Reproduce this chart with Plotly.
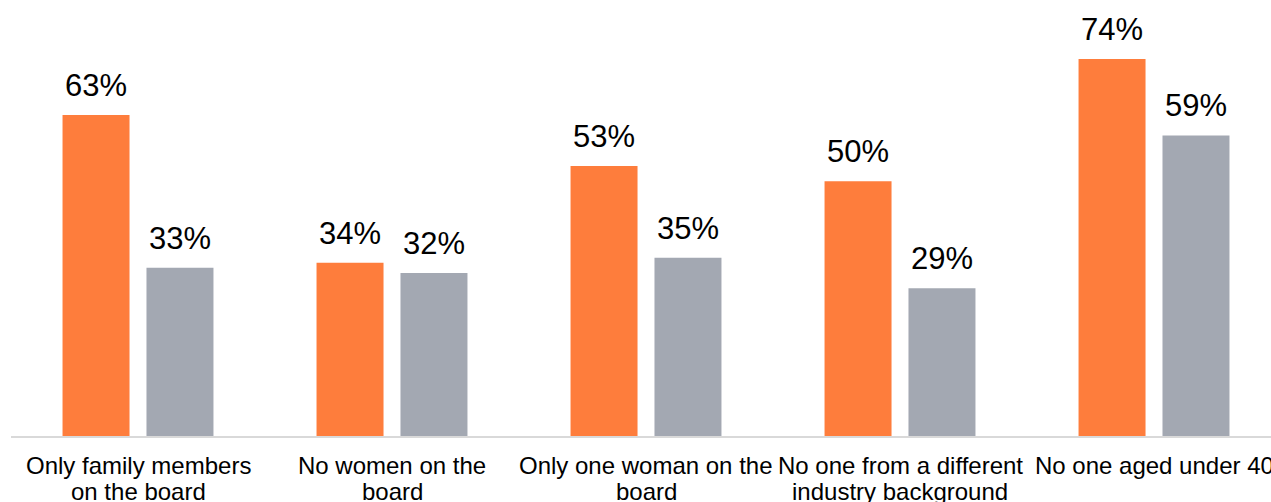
import plotly.graph_objects as go

categories = ["Only family members on the board", "No women on the board",
              "Only one woman on the board", "No one from a different industry background",
              "No one aged under 40"]
label_line1 = ["Only family members", "No women on the", "Only one woman on the",
               "No one from a different", "No one aged under 40"]
label_line2 = ["on the board", "board", "board", "industry background", ""]
series_a = [63, 34, 53, 50, 74]
series_b = [33, 32, 35, 29, 59]

FONT = "Liberation Sans"
fig = go.Figure()
fig.add_trace(go.Bar(x=categories, y=series_a, marker_color="#FE7D3C", marker_line_width=0))
fig.add_trace(go.Bar(x=categories, y=series_b, marker_color="#A3A8B2", marker_line_width=0))

# value labels
for vals, dx in ((series_a, -42), (series_b, 42)):
    for c, v in zip(categories, vals):
        fig.add_annotation(x=c, y=v, text=f"{v}%", showarrow=False, xshift=dx,
                           yanchor="bottom", yshift=10,
                           font=dict(size=31, color="black", family=FONT))

# category labels (tight line spacing)
for c, l1, l2 in zip(categories, label_line1, label_line2):
    fig.add_annotation(x=c, y=0, text=l1, showarrow=False, yanchor="top", yshift=-14,
                       font=dict(size=24, color="black", family=FONT))
    if l2:
        fig.add_annotation(x=c, y=0, text=l2, showarrow=False, yanchor="top", yshift=-40,
                           font=dict(size=24, color="black", family=FONT))

fig.update_layout(
    width=1271, height=502,
    margin=dict(l=11, r=0, t=0, b=66),
    plot_bgcolor="white", paper_bgcolor="white",
    showlegend=False,
    barmode="group", bargap=0.339, bargroupgap=0.202,
    font=dict(family=FONT, color="black"),
)
fig.update_xaxes(range=[-0.5, 4.4606], showline=True, linecolor="#D9D9D9", linewidth=2,
                 showticklabels=False, ticks="", showgrid=False)
fig.update_yaxes(range=[0, 85.57], visible=False, showgrid=False)

fig.write_html("out.html")
